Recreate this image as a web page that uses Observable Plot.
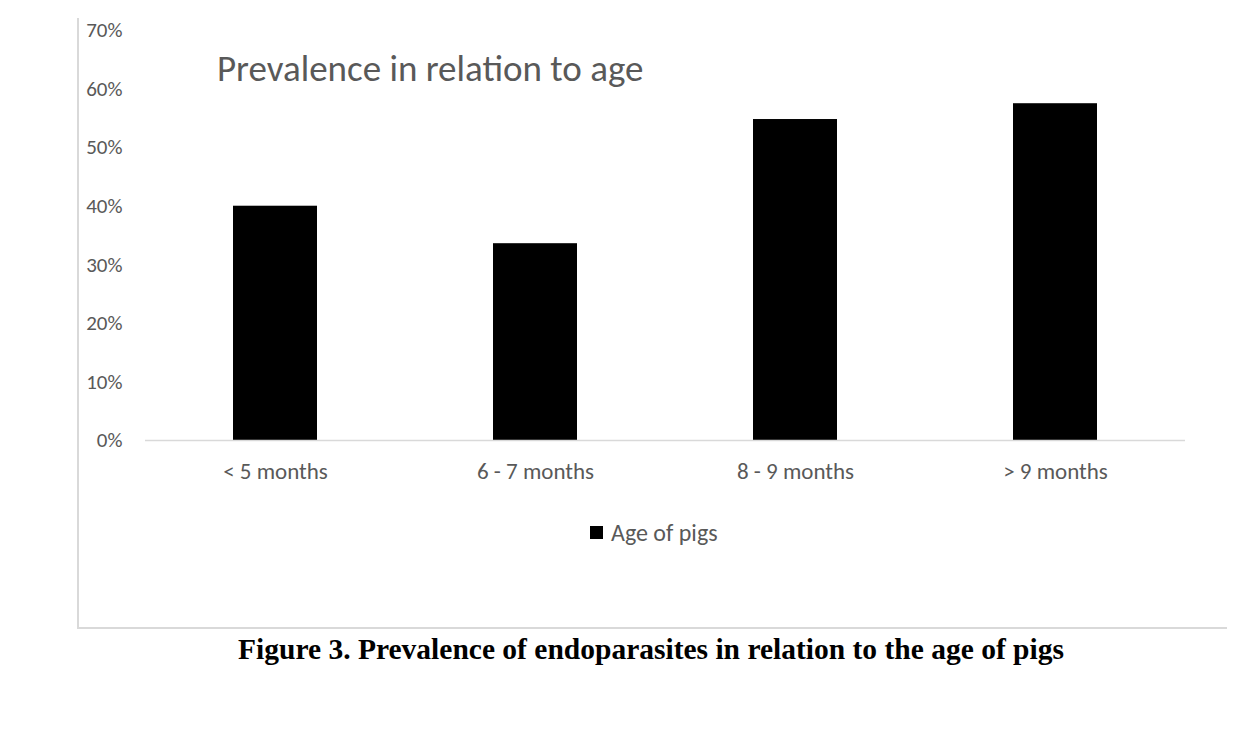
<!DOCTYPE html>
<html>
<head>
<meta charset="utf-8">
<script src="https://cdn.jsdelivr.net/npm/d3@7"></script>
<script src="https://cdn.jsdelivr.net/npm/@observablehq/plot@0.6"></script>
<style>
  html, body { margin: 0; padding: 0; background: #fff; }
  #wrap { position: relative; width: 1242px; height: 730px; overflow: hidden; font-family: Carlito, Lato, sans-serif; }
  #frame { position: absolute; left: 77px; top: 18px; width: 1148px; height: 609px; border-left: 2px solid #d9d9d9; border-bottom: 2px solid #d9d9d9; }
  #title { position: absolute; left: 217px; top: 47px; font-size: 37px; color: #595959; white-space: nowrap; line-height: 43px; }
  #legend { position: absolute; left: 590px; top: 518px; font-size: 24px; color: #595959; display: flex; align-items: center; white-space: nowrap; }
  #legend .sw { width: 13px; height: 13px; background: #000; margin-right: 8px; }
  #caption { position: absolute; left: 0; width: 1302px; top: 633px; text-align: center; font-family: "Liberation Serif", "Times New Roman", serif; font-weight: bold; font-size: 29.5px; color: #000; white-space: nowrap; }
  #chart { position: absolute; left: 0; top: 0; }
</style>
</head>
<body>
<div id="wrap">
  <div id="frame"></div>
  <div id="chart"></div>
  <div id="title">Prevalence in relation to age</div>
  <div id="legend"><span class="sw"></span><span>Age of pigs</span></div>
  <div id="caption">Figure 3. Prevalence of endoparasites in relation to the age of pigs</div>
</div>
<script>
const categories = ["< 5 months", "6 - 7 months", "8 - 9 months", "> 9 months"];
const prevalence = [0.40, 0.336, 0.548, 0.575];
const yTicks = [0, 0.1, 0.2, 0.3, 0.4, 0.5, 0.6, 0.7];
const seriesName = "Age of pigs";

const data = categories.map((c, i) => ({age: c, value: prevalence[i]}));

const chart = Plot.plot({
  width: 1242,
  height: 480,
  marginTop: 30,
  marginBottom: 40,
  marginLeft: 145,
  marginRight: 57,
  style: {fontFamily: "Carlito, Lato, sans-serif", fontSize: "20px", color: "#595959", background: "transparent", overflow: "visible"},
  x: {domain: categories, paddingInner: 0.677, paddingOuter: 0.3385, label: null},
  y: {domain: [0, 0.7], label: null},
  marks: [
    Plot.barY(data, {x: "age", y: "value", fill: "#000"}),
    Plot.ruleY([0], {stroke: "#d9d9d9", strokeWidth: 1.5}),
    Plot.axisY({ticks: yTicks, tickFormat: d3.format(".0%"), tickSize: 0, tickPadding: 23, label: null, fontSize: 21}),
    Plot.axisX({tickSize: 0, tickPadding: 22, label: null, fontSize: 23})
  ]
});
document.getElementById("chart").appendChild(chart);
</script>
</body>
</html>
